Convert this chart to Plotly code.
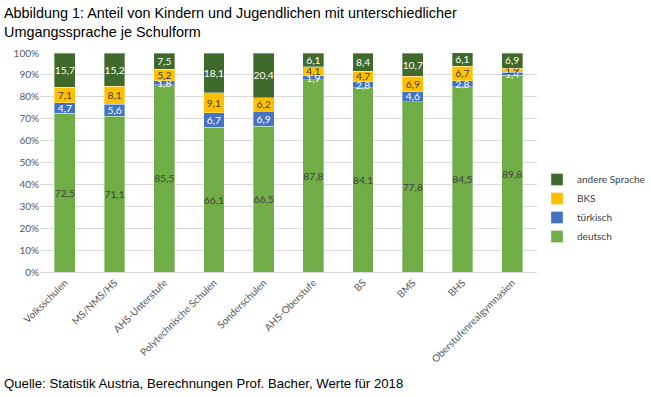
import plotly.graph_objects as go

categories = ["Volksschulen", "MS/NMS/HS", "AHS-Unterstufe", "Polytechnische Schulen",
              "Sonderschulen", "AHS-Oberstufe", "BS", "BMS", "BHS", "Oberstufenrealgymnasien"]
deutsch = [72.5, 71.1, 85.5, 66.1, 66.5, 87.8, 84.1, 77.8, 84.5, 89.8]
tuerkisch = [4.7, 5.6, 1.8, 6.7, 6.9, 1.9, 2.8, 4.6, 2.8, 1.4]
bks = [7.1, 8.1, 5.2, 9.1, 6.2, 4.1, 4.7, 6.9, 6.7, 1.9]
andere = [15.7, 15.2, 7.5, 18.1, 20.4, 6.1, 8.4, 10.7, 6.1, 6.9]
y_ticks = [0, 10, 20, 30, 40, 50, 60, 70, 80, 90, 100]
y_tick_labels = [f"{v}%" for v in y_ticks]

series = [
    ("deutsch", deutsch, "#70AD47", "#404040"),
    ("türkisch", tuerkisch, "#4472C4", "#FFFFFF"),
    ("BKS", bks, "#FFC000", "#404040"),
    ("andere Sprache", andere, "#3F6A2C", "#FFFFFF"),
]

FONT = "Lato, 'Open Sans', sans-serif"
TFONT = "Liberation Sans, Arial, sans-serif"

L, R, T, B = 40, 114, 53, 125
W = 651 - L - R
H = 397 - T - B


def py(p):
    return (397 - B - p) / H


def px(p):
    return (p - L) / W


fig = go.Figure()
for name, vals, color, tcolor in series:
    fig.add_trace(go.Bar(
        name=name, x=categories, y=vals,
        marker=dict(color=color, line=dict(color="rgba(255,255,255,0.35)", width=1)),
        text=[f"{v:.1f}".replace(".", ",") for v in vals],
        textposition="inside", insidetextanchor="middle",
        textangle=0,
        textfont=dict(color=tcolor, size=10.5, family=FONT),
        hoverinfo="skip",
    ))

fig.update_layout(
    barmode="stack",
    bargap=0.58,
    width=651, height=397,
    margin=dict(l=L, r=R, t=T, b=B, autoexpand=False),
    plot_bgcolor="white", paper_bgcolor="white",
    uniformtext=dict(mode="show", minsize=10),
    separators=",.",
    font=dict(family=FONT, size=10, color="#595959"),
    showlegend=True,
    legend=dict(traceorder="reversed", x=px(537), xanchor="left", y=py(165), yanchor="top",
                font=dict(size=10, color="#404040", family=FONT),
                itemwidth=30, tracegroupgap=0, bgcolor="rgba(0,0,0,0)"),
    annotations=[
        dict(text="Abbildung 1: Anteil von Kindern und Jugendlichen mit unterschiedlicher<br>Umgangssprache je Schulform",
             xref="paper", yref="paper", x=px(2), y=py(3), xanchor="left", yanchor="top",
             align="left", showarrow=False,
             font=dict(family=TFONT, size=14.4, color="#000000")),
        dict(text="Quelle: Statistik Austria, Berechnungen Prof. Bacher, Werte für 2018",
             xref="paper", yref="paper", x=px(2), y=py(383),
             xanchor="left", yanchor="middle", showarrow=False,
             font=dict(family=TFONT, size=13.2, color="#000000")),
    ],
)
fig.update_yaxes(range=[0, 100], tickvals=y_ticks, ticktext=y_tick_labels, automargin=False,
                 showgrid=True, gridcolor="#D9D9D9", gridwidth=1, zeroline=False,
                 showline=False, ticks="", tickfont=dict(size=10, color="#595959"))
fig.update_xaxes(tickangle=-45, showline=True, linecolor="#D9D9D9", linewidth=1, automargin=False,
                 ticks="", tickfont=dict(size=10, color="#595959"))

fig.write_html("out.html", config={"displayModeBar": False},
               post_script="document.body.style.margin='0';document.body.style.overflow='hidden';")
